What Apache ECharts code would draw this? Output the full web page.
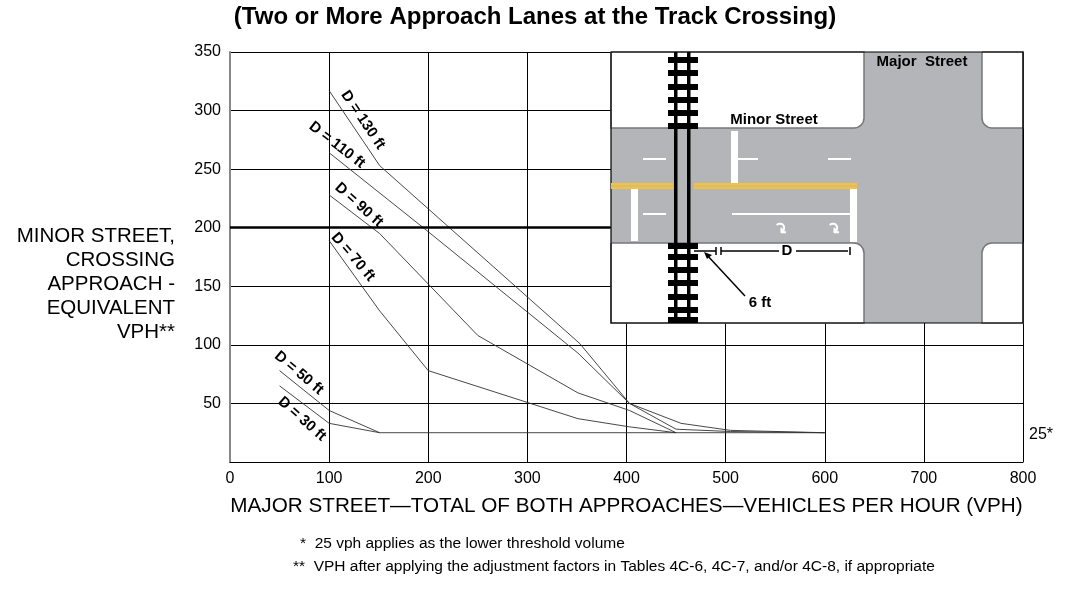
<!DOCTYPE html>
<html><head><meta charset="utf-8">
<script src="https://cdn.jsdelivr.net/npm/echarts@6/dist/echarts.min.js"></script>
<style>html,body{margin:0;padding:0;background:#fff}#c{width:1071px;height:593px}</style>
</head><body><div id="c"></div>
<script>
const xTicks=[0,100,200,300,400,500,600,700,800];
const yTicks=[50,100,150,200,250,300,350];
const d130=[[100,317],[151,253],[353,101],[403,50],[455,33],[505,27],[600,25]];
const d110=[[100,264],[195,200],[351,93],[403,50],[450,28],[505,26],[600,25]];
const d90=[[100,228],[151,195],[250,108],[351,59],[403,44],[450,25]];
const d70=[[100,189],[151,129],[200,78],[351,37],[403,30],[450,25]];
const d50=[[50,78],[100,44],[151,25]];
const d30=[[50,65],[100,33],[151,25]];
const floor25=[[151,25],[600,25]];
const curveNames=['D = 130 ft','D = 110 ft','D = 90 ft','D = 70 ft','D = 50 ft','D = 30 ft'];
const chart=echarts.init(document.getElementById('c'));
const F='Helvetica, Arial, "Liberation Sans", sans-serif';
const ls={color:'#333',width:0.9};
function ln(d,extra){return Object.assign({type:'line',data:d,symbol:'none',lineStyle:ls,silent:true,z:3},extra||{});}
const G=[];
function R(x,y,w,h,fill,extra){G.push(Object.assign({type:'rect',shape:{x,y,width:w,height:h},style:{fill},z:100},extra||{}));}
R(611,52,412,271,'#b3b5b8');
const blk={fill:'#fff',stroke:'#777',lineWidth:1.5};
G.push({type:'rect',shape:{x:611,y:52,width:253,height:76,r:[0,0,10,0]},style:blk,z:100});
G.push({type:'rect',shape:{x:982,y:52,width:41,height:76,r:[0,0,0,10]},style:blk,z:100});
G.push({type:'rect',shape:{x:611,y:243,width:253,height:80,r:[0,10,0,0]},style:blk,z:100});
G.push({type:'rect',shape:{x:982,y:243,width:41,height:80,r:[10,0,0,0]},style:blk,z:100});
R(611,52,412,271,'none',{style:{fill:'none',stroke:'#000',lineWidth:1.2}});
R(611,183,62,6,'#f5c23a');R(694,183,163,6,'#f5c23a');
R(611,185.5,62,1,'#b3b5b8');R(694,185.5,163,1,'#b3b5b8');
R(731,131,7,52,'#fff');R(631,189,7,52,'#fff');R(850,189,7,53,'#fff');
[[643,159,23],[738,159,20],[828,159,23],[643,214,23],[732,214,118]].forEach(a=>R(a[0],a[1]-1,a[2],2,'#fff'));
[780,833].forEach(x=>G.push({type:'text',x:x,y:230,style:{text:'↷',fill:'#fff',font:'bold 16px '+F,align:'center',verticalAlign:'middle'},rotation:-0.8,z:101}));
R(674,52,3.5,271,'#000');R(687,52,3.5,271,'#000');
[60,73,87,100,113,126,246,257,270,283,297,310,320].forEach(y=>R(668,y-3,30,6,'#000'));
const lab=(t,x,y)=>G.push({type:'text',x:x,y:y,style:{text:t,font:'bold 15px '+F,fill:'#000',align:'center',verticalAlign:'middle'},z:102});
lab('Major  Street',922,62);lab('Minor Street',774,120);lab('D',787,251);lab('6 ft',760,303);
[[694,716],[721,779],[796,848]].forEach(a=>G.push({type:'line',shape:{x1:a[0],y1:251,x2:a[1],y2:251},style:{stroke:'#000',lineWidth:1.5},z:102}));
[716,721,850].forEach(x=>G.push({type:'line',shape:{x1:x,y1:247,x2:x,y2:255},style:{stroke:'#000',lineWidth:1.5},z:102}));
G.push({type:'line',shape:{x1:745,y1:296,x2:706,y2:254},style:{stroke:'#000',lineWidth:1.5},z:102});
G.push({type:'polygon',shape:{points:[[704,252],[712,255],[707,259]]},style:{fill:'#000'},z:102});
[[363,120,-0.98],[337,145,-0.66],[359,205,-0.73],[353,257,-0.86],[299,373,-0.7],[302,419,-0.72]].forEach((p,i)=>
 G.push({type:'text',x:p[0],y:p[1],rotation:p[2],style:{text:curveNames[i],font:'bold 15px '+F,fill:'#000',align:'center',verticalAlign:'middle'},z:50}));
G.push({type:'text',x:1029,y:435,style:{text:'25*',font:'16px '+F,fill:'#000',verticalAlign:'middle'}});
G.push({type:'text',x:535,y:29,style:{text:'(Two or More Approach Lanes at the Track Crossing)',font:'bold 24px '+F,fill:'#000',align:'center',verticalAlign:'bottom'}});
G.push({type:'text',x:175,y:284,style:{text:'MINOR STREET,\nCROSSING\nAPPROACH -\nEQUIVALENT\nVPH**',font:'20.5px '+F,fill:'#000',align:'right',verticalAlign:'middle',lineHeight:24}});
G.push({type:'text',x:300,y:544,style:{text:'*  25 vph applies as the lower threshold volume',font:'15.5px '+F,fill:'#000',verticalAlign:'middle'}});
G.push({type:'text',x:293,y:567,style:{text:'**  VPH after applying the adjustment factors in Tables 4C-6, 4C-7, and/or 4C-8, if appropriate',font:'15.5px '+F,fill:'#000',verticalAlign:'middle'}});
chart.setOption({
 animation:false,
 grid:{left:230,right:48,top:52,bottom:131},
 xAxis:{type:'value',min:0,max:800,interval:100,
  name:'MAJOR STREET—TOTAL OF BOTH APPROACHES—VEHICLES PER HOUR (VPH)',nameLocation:'middle',nameGap:34,
  nameTextStyle:{fontSize:20.7,fontFamily:F,color:'#000'},
  axisLine:{lineStyle:{color:'#000'}},axisTick:{show:false},
  axisLabel:{fontSize:16,fontFamily:F,color:'#000',margin:9,customValues:xTicks},
  splitLine:{lineStyle:{color:'#000',width:1}}},
 yAxis:{type:'value',min:0,max:350,interval:50,
  axisLine:{show:true,lineStyle:{color:'#888',width:2}},axisTick:{show:false},
  axisLabel:{fontSize:16,fontFamily:F,color:'#000',margin:9,customValues:yTicks},
  splitLine:{lineStyle:{color:'#000',width:1}}},
 series:[ln(d130),ln(d110),ln(d90),ln(d70),ln(d50),ln(d30),
  ln(floor25,{markLine:{symbol:'none',silent:true,label:{show:false},lineStyle:{color:'#000',width:2.5,type:'solid'},
   data:[[{coord:[0,200]},{coord:[384,200]}]]}})],
 graphic:G
});
</script></body></html>
